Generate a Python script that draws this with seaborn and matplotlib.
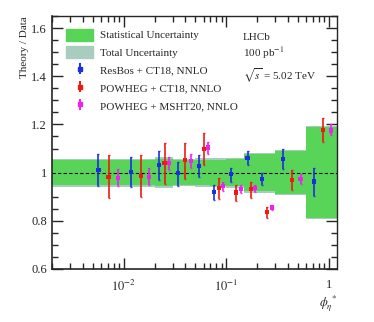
import numpy as np
import pandas as pd
import seaborn as sns
import matplotlib.pyplot as plt
from matplotlib.patches import Patch
from matplotlib.ticker import MultipleLocator, FixedLocator, FixedFormatter, LogLocator, NullFormatter

# Bin edges in phi*_eta (first edge: where the markers of the first bin start)
bin_edges = [0.0047, 0.01, 0.02, 0.03, 0.05, 0.07, 0.10, 0.15, 0.20, 0.30, 0.60, 1.2]

# Relative uncertainties of the data (bands around 1)
stat_unc = [0.052, 0.052, 0.056, 0.051, 0.053, 0.054, 0.056, 0.077, 0.077, 0.089, 0.190]
total_unc = [0.058, 0.058, 0.063, 0.057, 0.059, 0.060, 0.062, 0.083, 0.083, 0.095, 0.193]

# Theory / Data ratios with lower and upper error bar ends
resbos_val = [1.011, 1.004, 1.030, 0.997, 1.028, 0.920, 0.993, 1.062, 0.975, 1.058, 0.963]
resbos_lo = [0.945, 0.941, 0.968, 0.945, 0.982, 0.885, 0.961, 1.032, 0.949, 1.014, 0.903]
resbos_hi = [1.076, 1.066, 1.090, 1.046, 1.072, 0.950, 1.021, 1.090, 1.000, 1.100, 1.021]

powheg_ct18_val = [0.983, 0.986, 1.039, 1.051, 1.099, 0.935, 0.917, 0.931, 0.837, 0.970, 1.177]
powheg_ct18_lo = [0.894, 0.900, 0.952, 0.975, 1.033, 0.890, 0.883, 0.896, 0.812, 0.928, 1.128]
powheg_ct18_hi = [1.072, 1.072, 1.121, 1.124, 1.163, 0.979, 0.950, 0.959, 0.859, 1.010, 1.225]

powheg_msht_val = [0.979, 0.983, 1.039, 1.048, 1.104, 0.945, 0.931, 0.935, 0.855, 0.975, 1.175]
powheg_msht_lo = [0.945, 0.949, 1.010, 1.019, 1.079, 0.924, 0.917, 0.921, 0.844, 0.954, 1.156]
powheg_msht_hi = [1.014, 1.017, 1.066, 1.079, 1.127, 0.959, 0.948, 0.949, 0.866, 0.993, 1.203]

labels = ["ResBos + CT18, NNLO", "POWHEG + CT18, NNLO", "POWHEG + MSHT20, NNLO"]
colors = ["#1a2fe0", "#f01a10", "#f020f0"]
offsets = [0.25, 0.55, 0.82]  # position inside each bin (log fraction)

xmin, xmax = 0.002, 1.2
edges = np.array(bin_edges)

rows = []
series = [
    (resbos_val, resbos_lo, resbos_hi),
    (powheg_ct18_val, powheg_ct18_lo, powheg_ct18_hi),
    (powheg_msht_val, powheg_msht_lo, powheg_msht_hi),
]
for lab, frac, (v, lo, hi) in zip(labels, offsets, series):
    for i in range(len(v)):
        x = edges[i] * (edges[i + 1] / edges[i]) ** frac
        rows.append({"model": lab, "phi": x, "ratio": v[i], "lo": lo[i], "hi": hi[i]})
df = pd.DataFrame(rows)

sns.set_style("ticks")
plt.rcParams["font.family"] = ["Liberation Serif", "DejaVu Serif"]
plt.rcParams["mathtext.fontset"] = "stix"

fig = plt.figure(figsize=(3.74, 3.22), dpi=100)
ax = fig.add_axes([0.139, 0.165, 0.762, 0.785])

# uncertainty bands (first bin stretched to the left edge of the axis)
band_x = edges.copy()
band_x[0] = xmin * 0.9
tot = np.array(total_unc + [total_unc[-1]])
sta = np.array(stat_unc + [stat_unc[-1]])
ax.fill_between(band_x, 1 - tot, 1 + tot, step="post", color="#a8ccbf", lw=0)
ax.fill_between(band_x, 1 - sta, 1 + sta, step="post", color="#58d458", lw=0)
ax.axhline(1, color="black", ls=(0, (3, 2)), lw=0.8)

handles = [Patch(color="#58d458"), Patch(color="#a8ccbf")]
for lab, col in zip(labels, colors):
    d = df[df["model"] == lab]
    ax.errorbar(d["phi"], d["ratio"], yerr=[d["ratio"] - d["lo"], d["hi"] - d["ratio"]],
                fmt="none", ecolor=col, elinewidth=1.4, capsize=1, capthick=1, alpha=0.85)
    handles.append(ax.errorbar([], [], yerr=[], fmt="s", color=col, ms=2.5,
                               elinewidth=1.4, capsize=1.5))
sns.scatterplot(data=df, x="phi", y="ratio", hue="model", palette=dict(zip(labels, colors)),
                marker="s", s=9, linewidth=0, legend=False, ax=ax, zorder=5)

ax.set_xscale("log")
ax.set_xlim(xmin, xmax)
ax.set_ylim(0.6, 1.65)

ax.xaxis.set_major_locator(FixedLocator([0.01, 0.1, 1]))
ax.xaxis.set_major_formatter(FixedFormatter([r"$10^{-2}$", r"$10^{-1}$", "1"]))
ax.xaxis.set_minor_locator(LogLocator(base=10, subs=np.arange(2, 10)))
ax.xaxis.set_minor_formatter(NullFormatter())
ax.yaxis.set_major_locator(FixedLocator([0.6, 0.8, 1.0, 1.2, 1.4, 1.6]))
ax.yaxis.set_major_formatter(FixedFormatter(["0.6", "0.8", "1", "1.2", "1.4", "1.6"]))
ax.yaxis.set_minor_locator(MultipleLocator(0.05))
ax.tick_params(which="both", direction="in", top=True, right=True, labelsize=9, width=1)
ax.tick_params(axis="x", which="both", pad=7)
ax.tick_params(which="major", length=8)
ax.tick_params(which="minor", length=4)
for s in ax.spines.values():
    s.set_linewidth(1)
ax.spines["left"].set_linewidth(1.2)
ax.spines["bottom"].set_linewidth(1.2)

ax.set_ylabel("Theory / Data", fontsize=8, loc="top", labelpad=2)
ax.set_xlabel(r"$\phi_{\eta}^{\;*}$", fontsize=9, loc="right", labelpad=0)

ax.legend(handles, ["Statistical Uncertainty", "Total Uncertainty"] + labels,
          loc="upper left", bbox_to_anchor=(0.015, 0.99), frameon=False, fontsize=8,
          handlelength=2.4, handleheight=1.3, handletextpad=0.6, labelspacing=0.5)

ax.text(0.67, 0.935, "LHCb\n" + r"100 pb$^{-1}$" + "\n" + r"$\sqrt{s}$ = 5.02 TeV",
        transform=ax.transAxes, fontsize=8, va="top", ha="left", linespacing=1.35)

plt.savefig("out.png", dpi=100)
